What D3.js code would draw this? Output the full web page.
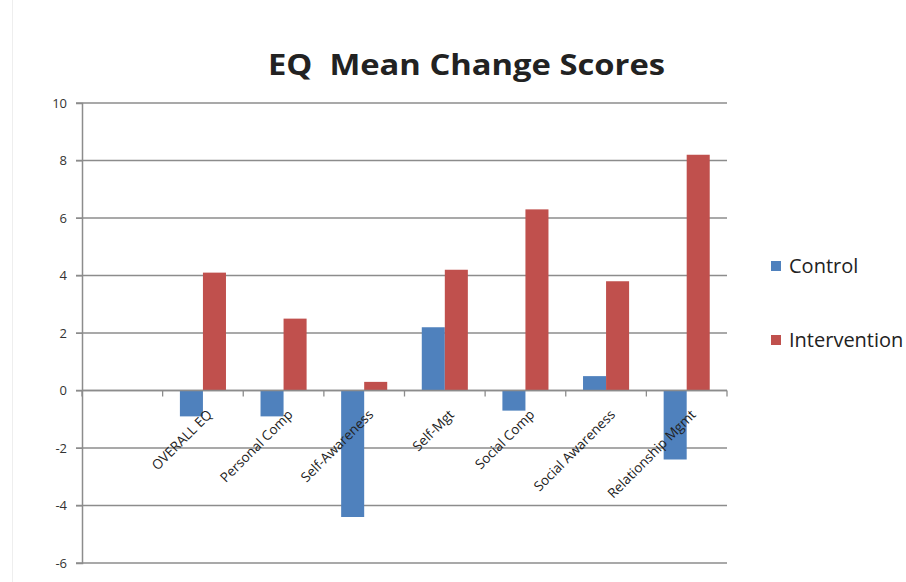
<!DOCTYPE html>
<html><head><meta charset="utf-8">
<script src="https://cdn.jsdelivr.net/npm/d3@7"></script>
<style>body{margin:0;background:#fff;} svg{display:block;}</style>
</head><body>
<svg id="c" width="906" height="582"></svg>
<script>
const categories = ["", "OVERALL EQ", "Personal Comp", "Self-Awareness", "Self-Mgt", "Social Comp", "Social Awareness", "Relationship Mgmt"];
const seriesNames = ["Control", "Intervention"];
const control = [null, -0.9, -0.9, -4.4, 2.2, -0.7, 0.5, -2.4];
const intervention = [null, 4.1, 2.5, 0.3, 4.2, 6.3, 3.8, 8.2];
const yTicks = [-6, -4, -2, 0, 2, 4, 6, 8, 10];
const colors = ["#4F81BD", "#C0504D"];

const svg = d3.select("#c");
const font = "'Open Sans', 'Liberation Sans', sans-serif";
svg.append("line").attr("x1",12.5).attr("x2",12.5).attr("y1",0).attr("y2",582).attr("stroke","#eeeeee");

const x0 = 82, x1 = 727, yTop = 103, yBot = 563;
const x = d3.scaleBand().domain(categories).range([x0, x1]).paddingInner(0).paddingOuter(0);
const y = d3.scaleLinear().domain([-6, 10]).range([yBot, yTop]);
const xs = d3.scaleBand().domain(seriesNames).range([0, x.bandwidth()]).paddingInner(0).paddingOuter(0.75);

// gridlines
svg.append("g").selectAll("line").data(yTicks).join("line")
  .attr("x1", x0-6).attr("x2", x1).attr("y1", d=>y(d)).attr("y2", d=>y(d))
  .attr("stroke", "#8c8c8c").attr("stroke-width", 1.3);

// y axis
const yAx = svg.append("g").attr("transform", `translate(${x0},0)`)
  .call(d3.axisLeft(y).tickValues(yTicks).tickSize(6).tickPadding(9).tickFormat(d => String(d)));
yAx.select(".domain").attr("stroke", "#8c8c8c").attr("stroke-width", 1.5);
yAx.selectAll(".tick line").attr("stroke", "#8c8c8c");
yAx.selectAll("text").attr("font-family", font).attr("font-size", 13).attr("fill", "#333");

// bars
const data = [control, intervention];
data.forEach((vals, si) => {
  svg.append("g").selectAll("rect").data(categories.map((c,i)=>({c, v: vals[i]})).filter(d=>d.v!==null)).join("rect")
    .attr("x", d => x(d.c) + xs(seriesNames[si]))
    .attr("width", xs.bandwidth())
    .attr("y", d => y(Math.max(0, d.v)))
    .attr("height", d => Math.abs(y(d.v) - y(0)))
    .attr("fill", colors[si]);
});

// x axis at zero
const xAx = svg.append("g").attr("transform", `translate(0,${y(0)})`);
xAx.append("line").attr("x1", x0).attr("x2", x1).attr("stroke", "#8c8c8c").attr("stroke-width", 1.5);
const bounds = categories.map(c => x(c)).concat([x1]);
xAx.selectAll("line.t").data(bounds).join("line").attr("class","t")
  .attr("x1", d=>d).attr("x2", d=>d).attr("y1", 0).attr("y2", 6).attr("stroke", "#8c8c8c").attr("stroke-width", 1.3);
xAx.selectAll("text").data(categories.filter(c=>c)).join("text")
  .attr("transform", d => `translate(${x(d) + x.bandwidth()/2 + 10},${25}) rotate(-45)`)
  .attr("text-anchor", "end").attr("font-family", font).attr("font-size", 13.5).attr("fill", "#222")
  .text(d => d);

// title
svg.append("text").attr("x", 268).attr("y", 75)
  .attr("font-family", font).attr("font-weight", "bold").attr("font-size", 28).attr("fill", "#222")
  .attr("textLength", 397).attr("lengthAdjust", "spacingAndGlyphs")
  .style("white-space", "pre")
  .text("EQ  Mean Change Scores");

// legend
const lg = svg.append("g");
seriesNames.forEach((s, i) => {
  const yy = 266 + i*74;
  lg.append("rect").attr("x", 771).attr("y", yy-5).attr("width", 10).attr("height", 10).attr("fill", colors[i]);
  lg.append("text").attr("x", 789).attr("y", yy).attr("dy", "0.35em")
    .attr("font-family", font).attr("font-size", 20).attr("fill", "#222").text(s);
});
</script>
</body></html>
